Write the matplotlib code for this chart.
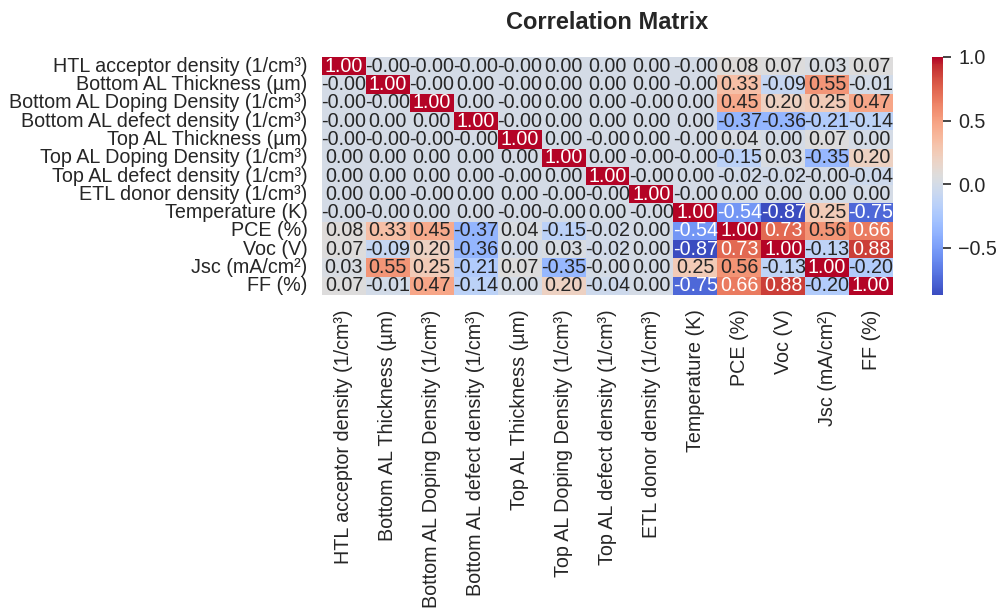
import numpy as np
import matplotlib
matplotlib.use("Agg")
import matplotlib.pyplot as plt
import seaborn as sns

labels = [
    "HTL acceptor density (1/cm³)",
    "Bottom AL Thickness (µm)",
    "Bottom AL Doping Density (1/cm³)",
    "Bottom AL defect density (1/cm³)",
    "Top AL Thickness (µm)",
    "Top AL Doping Density (1/cm³)",
    "Top AL defect density (1/cm³)",
    "ETL donor density (1/cm³)",
    "Temperature (K)",
    "PCE (%)",
    "Voc (V)",
    "Jsc (mA/cm²)",
    "FF (%)",
]

# rows of the correlation matrix (-0.0 keeps the "-0.00" label of tiny negatives)
r_htl    = [1.00, -0.0, -0.0, -0.0, -0.0, 0.00, 0.00, 0.00, -0.0, 0.08, 0.07, 0.03, 0.07]
r_bthk   = [-0.0, 1.00, -0.0, 0.00, -0.0, 0.00, 0.00, 0.00, -0.0, 0.33, -0.09, 0.55, -0.01]
r_bdop   = [-0.0, -0.0, 1.00, 0.00, -0.0, 0.00, 0.00, -0.0, 0.00, 0.45, 0.20, 0.25, 0.47]
r_bdef   = [-0.0, 0.00, 0.00, 1.00, -0.0, 0.00, 0.00, 0.00, 0.00, -0.37, -0.36, -0.21, -0.14]
r_tthk   = [-0.0, -0.0, -0.0, -0.0, 1.00, 0.00, -0.0, 0.00, -0.0, 0.04, 0.00, 0.07, 0.00]
r_tdop   = [0.00, 0.00, 0.00, 0.00, 0.00, 1.00, 0.00, -0.0, -0.0, -0.15, 0.03, -0.35, 0.20]
r_tdef   = [0.00, 0.00, 0.00, 0.00, -0.0, 0.00, 1.00, -0.0, 0.00, -0.02, -0.02, -0.0, -0.04]
r_etl    = [0.00, 0.00, -0.0, 0.00, 0.00, -0.0, -0.0, 1.00, -0.0, 0.00, 0.00, 0.00, 0.00]
r_temp   = [-0.0, -0.0, 0.00, 0.00, -0.0, -0.0, 0.00, -0.0, 1.00, -0.54, -0.87, 0.25, -0.75]
r_pce    = [0.08, 0.33, 0.45, -0.37, 0.04, -0.15, -0.02, 0.00, -0.54, 1.00, 0.73, 0.56, 0.66]
r_voc    = [0.07, -0.09, 0.20, -0.36, 0.00, 0.03, -0.02, 0.00, -0.87, 0.73, 1.00, -0.13, 0.88]
r_jsc    = [0.03, 0.55, 0.25, -0.21, 0.07, -0.35, -0.0, 0.00, 0.25, 0.56, -0.13, 1.00, -0.20]
r_ff     = [0.07, -0.01, 0.47, -0.14, 0.00, 0.20, -0.04, 0.00, -0.75, 0.66, 0.88, -0.20, 1.00]

corr = np.array([r_htl, r_bthk, r_bdop, r_bdef, r_tthk, r_tdop, r_tdef, r_etl,
                 r_temp, r_pce, r_voc, r_jsc, r_ff])

sns.set_theme(style="white")
plt.rcParams["font.family"] = ["Liberation Sans", "DejaVu Sans"]

W, H = 996, 608
fig = plt.figure(figsize=(W / 100, H / 100), dpi=100)
ax = fig.add_axes([322 / W, 1 - 295 / H, (893 - 322) / W, (295 - 57) / H])
cax = fig.add_axes([932 / W, 1 - 295 / H, 11 / W, (295 - 57) / H])

sns.heatmap(corr, annot=True, fmt=".2f", cmap="coolwarm", ax=ax, cbar_ax=cax,
            xticklabels=labels, yticklabels=labels,
            annot_kws={"size": 14.2})

ax.tick_params(axis="both", length=0, pad=10.5, labelsize=14.2, colors="#262626")
plt.setp(ax.get_xticklabels(), rotation=90)
plt.setp(ax.get_yticklabels(), rotation=0)
ax.set_title("Correlation Matrix", fontsize=17, fontweight="bold", pad=20, color="#262626")

cax.tick_params(length=6, width=1.2, pad=5, labelsize=14.2, colors="#262626")
cax.set_yticks([-0.5, 0.0, 0.5, 1.0])
for s in cax.spines.values():
    s.set_visible(False)

fig.savefig("out.png", dpi=100)
